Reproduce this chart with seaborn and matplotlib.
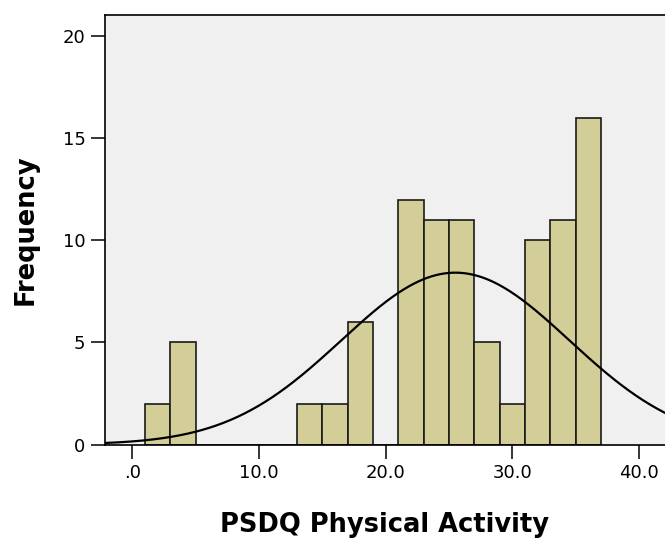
import numpy as np
import pandas as pd
import matplotlib
matplotlib.use("Agg")
import matplotlib.pyplot as plt
import seaborn as sns

# ---- data ----
bin_left = [1, 3, 5, 7, 9, 11, 13, 15, 17, 19, 21, 23, 25, 27, 29, 31, 33, 35]
counts   = [2, 5, 0, 0, 0, 0, 2, 2, 6, 0, 12, 11, 11, 5, 2, 10, 11, 16]
bin_width = 2
curve_mean = 25.5
curve_sd = 9.0
x_ticks = [0, 10, 20, 30, 40]
x_tick_labels = [".0", "10.0", "20.0", "30.0", "40.0"]
y_ticks = [0, 5, 10, 15, 20]
x_label = "PSDQ Physical Activity"
y_label = "Frequency"

sns.set_theme(style="ticks")
plt.rcParams['font.family'] = ['DejaVu Sans']

W, H = 665, 544
fig = plt.figure(figsize=(W / 100, H / 100), dpi=100)
left_px, right_px, top_px, bottom_px = 105, 665, 15, 444.5
ax = fig.add_axes([left_px / W, (H - bottom_px) / H,
                   (right_px - left_px) / W, (bottom_px - top_px) / H])
ax.set_facecolor("#F0F0F0")

df = pd.DataFrame({"mid": [b + bin_width / 2 for b in bin_left], "count": counts})
edges = bin_left + [bin_left[-1] + bin_width]
sns.histplot(data=df, x="mid", weights="count", bins=edges, ax=ax,
             color="#D3CE97", alpha=1.0, edgecolor="#1a1a1a", linewidth=1.2)

# normal curve scaled to counts
n_total = sum(counts)
xs = np.linspace(-2.2, 42.2, 400)
ys = n_total * bin_width / (curve_sd * np.sqrt(2 * np.pi)) * np.exp(-0.5 * ((xs - curve_mean) / curve_sd) ** 2)
sns.lineplot(x=xs, y=ys, ax=ax, color="black", linewidth=1.6)

ax.set_xlim(-2.17, 42.06)
ax.set_ylim(0, 21.05)
ax.set_xticks(x_ticks)
ax.set_xticklabels(x_tick_labels)
ax.set_yticks(y_ticks)
ax.tick_params(axis="both", direction="out", length=10, width=1.1,
               labelsize=13, colors="black", labelcolor="black", pad=4)
for s in ["left", "top", "bottom"]:
    ax.spines[s].set_visible(True)
    ax.spines[s].set_color("black")
    ax.spines[s].set_linewidth(1.2)
ax.spines["right"].set_visible(False)

ax.set_xlabel(x_label, fontsize=18.5, fontweight="bold", labelpad=22, color="black")
ax.set_ylabel(y_label, fontsize=18.5, fontweight="bold", labelpad=17, color="black")

fig.savefig("out.png", dpi=100, facecolor="white")
